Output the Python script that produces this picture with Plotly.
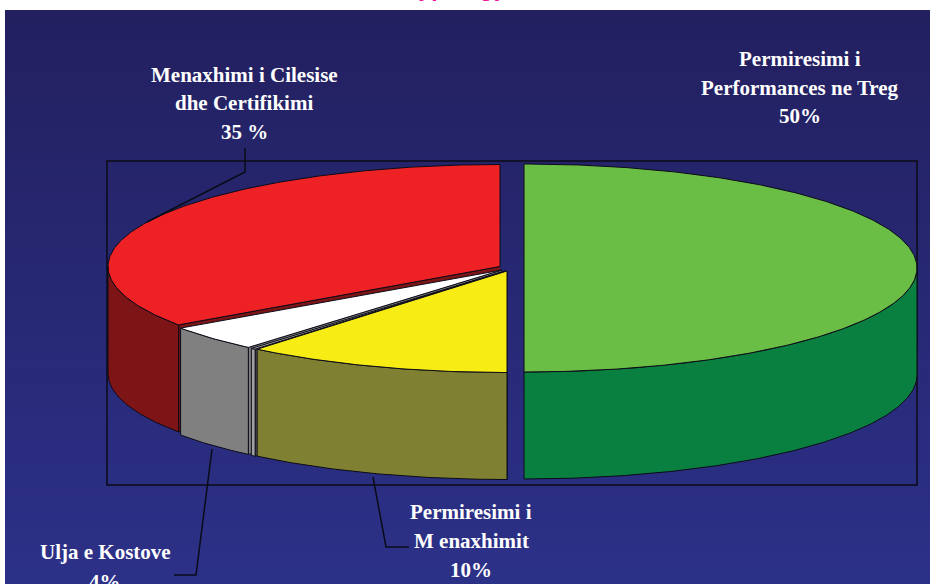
import numpy as np
import plotly.graph_objects as go

# ---------- data ----------
slice_names = ["Permiresimi i Performances ne Treg", "Permiresimi i Menaxhimit", "(pa emer)",
               "Ulja e Kostove", "Menaxhimi i Cilesise dhe Certifikimi"]
slice_values = [50, 11, 0.2, 4.1, 34.7]
label_lines = [
    ["Permiresimi i", "Performances ne Treg", "50%"],
    ["Permiresimi i", "M enaxhimit", "10%"],
    ["Ulja e Kostove", "4%"],
    ["Menaxhimi i Cilesise", "dhe Certifikimi", "35 %"],
]
title_text = "Typology"

# ---------- style / layout ----------
W, H = 930, 584
top_colors = ["#6abd45", "#f7ec13", "#a6a6a6", "#ffffff", "#ee2224"]
side_colors = ["#0a8040", "#808033", "#a0a0a0", "#808080", "#7d1416"]
face_colors = [None, "#808033", "#555555", "#808080", "#7d1416"]
centers = [(524, 268), (507, 271), (505, 271), (502, 270), (500, 266.5)]
radii = [(393, 104), (392, 101.5), (392, 101.5), (392, 101.5), (392, 102)]
depth = 107
edge = "#0b0b18"
label_pos = [
    [(800, 59), (800, 88), (800, 116)],
    [(471, 512), (471, 541), (471, 570)],
    [(105, 552), (105, 582)],
    [(244, 75), (244, 103), (244, 132)],
]
leaders = [
    ([245, 245, 147], [148, 172, 222]),
    ([373, 386, 409], [477, 547, 547]),
    ([212, 196, 174], [449, 575, 575]),
]

# ---------- geometry ----------
vals = np.array(slice_values, dtype=float)
edges = np.concatenate([[0], np.cumsum(vals) / vals.sum() * 2 * np.pi])


def arc(i, a0, a1):
    t = np.linspace(a0, a1, max(int(abs(a1 - a0) * 90), 2))
    cx, cy = centers[i]
    rx, ry = radii[i]
    return cx + rx * np.sin(t), cy - ry * np.cos(t)


fig = go.Figure()


def poly(xs, ys, fill, width=1.0):
    fig.add_trace(go.Scatter(x=list(xs), y=list(ys), mode="lines", fill="toself", fillcolor=fill,
                             line=dict(color=edge, width=width), hoverinfo="skip", showlegend=False))


def draw_slice(i):
    a0, a1 = edges[i], edges[i + 1]
    cx, cy = centers[i]
    # cut face on the leading (clockwise-end) side, seen through the gaps
    if face_colors[i] is not None:
        ax, ay = arc(i, a0, a0)
        poly([cx, ax[0], ax[0], cx], [cy, ay[0], ay[0] + depth, cy + depth], face_colors[i], 0.8)
    # outer wall: only the part of the rim facing the viewer
    lo, hi = max(a0, np.pi / 2), min(a1, 3 * np.pi / 2)
    if hi > lo:
        x, y = arc(i, lo, hi)
        poly(np.r_[x, x[::-1], x[0]], np.r_[y, (y + depth)[::-1], y[0]], side_colors[i])
    # top
    x, y = arc(i, a0, a1)
    poly(np.r_[cx, x, cx], np.r_[cy, y, cy], top_colors[i])


draw_order = [0, 4, 3, 2, 1]
for i in draw_order:
    draw_slice(i)

for lx, ly in leaders:
    fig.add_trace(go.Scatter(x=lx, y=ly, mode="lines", line=dict(color=edge, width=1.5),
                             hoverinfo="skip", showlegend=False))

# background gradient and plot frame, behind the traces
shapes = []
bands = 48
top_rgb, bot_rgb = np.array([0x23, 0x20, 0x60]), np.array([0x2c, 0x31, 0x88])
for k in range(bands):
    c = top_rgb + (bot_rgb - top_rgb) * k / (bands - 1)
    y0 = 10 + (H - 10) * k / bands
    y1 = H if k == bands - 1 else y0 + (H - 10) / bands + 1.5
    shapes.append(dict(type="rect", layer="below", x0=5, x1=W, y0=y0, y1=y1, line_width=0,
                       fillcolor=f"rgb({c[0]:.0f},{c[1]:.0f},{c[2]:.0f})"))
shapes.append(dict(type="rect", layer="below", x0=107, x1=917, y0=161, y1=485,
                   line=dict(color=edge, width=1.5)))

annotations = []
for lines, positions in zip(label_lines, label_pos):
    for text, (x, y) in zip(lines, positions):
        annotations.append(dict(x=x, y=y, text=f"<b>{text}</b>", showarrow=False, xanchor="center",
                                yanchor="middle",
                                font=dict(family="Liberation Serif", size=21, color="#ffffff")))
annotations.append(dict(x=456, y=0, yshift=12, text=f"<b>{title_text}</b>", showarrow=False, xanchor="center",
                        yanchor="middle", font=dict(family="Liberation Sans", size=23, color="#f0109a")))

fig.update_layout(
    width=W, height=H, margin=dict(l=0, r=0, t=0, b=0), paper_bgcolor="#ffffff", plot_bgcolor="#ffffff",
    xaxis=dict(range=[0, W], visible=False, fixedrange=True),
    yaxis=dict(range=[H, 0], visible=False, fixedrange=True),
    shapes=shapes, annotations=annotations, showlegend=False,
)
fig.write_html("out.html", config={"displayModeBar": False},
               post_script="document.body.style.margin='0';document.documentElement.style.overflow='hidden';")
